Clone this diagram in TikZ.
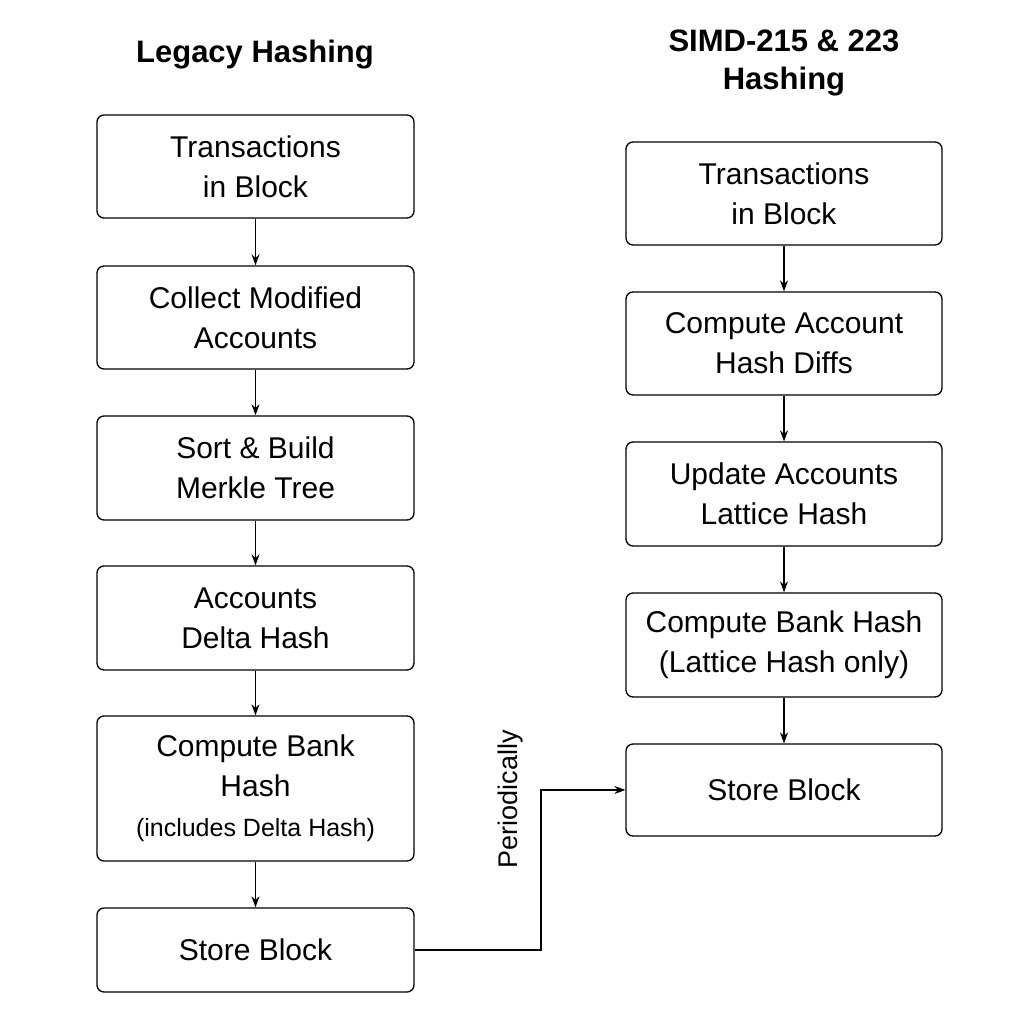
\documentclass[tikz,border=0pt]{standalone}
\usepackage{fontspec}
\setmainfont{Liberation Sans}
\usetikzlibrary{arrows.meta}
\begin{document}
\begin{tikzpicture}[x=1pt,y=-1pt,
  box/.style={draw,line width=1.3pt,rounded corners=7pt,align=center,inner sep=0pt,
    font=\fontsize{30}{40}\selectfont},
  ttl/.style={align=center,font=\bfseries\fontsize{31}{38}\selectfont},
  arr/.style={line width=1.3pt,-{Stealth[length=11pt,width=8pt]}}]
\useasboundingbox (0,0) rectangle (1024,1024);
\node[ttl] (t1) at (255,55) {Legacy Hashing};
\node[ttl] (t2) at (784,63) {SIMD-215 \& 223\\Hashing};
\node[box,minimum width=317pt,minimum height=103pt] (l1) at (255.5,166.5) {Transactions\\in Block};
\node[box,minimum width=317pt,minimum height=103pt] (l2) at (255.5,317.5) {Collect Modified\\Accounts};
\node[box,minimum width=317pt,minimum height=104pt] (l3) at (255.5,468) {Sort \& Build\\Merkle Tree};
\node[box,minimum width=317pt,minimum height=104pt] (l4) at (255.5,618) {Accounts\\Delta Hash};
\node[box,minimum width=317pt,minimum height=145pt] (l5) at (255.5,788.5) {Compute Bank\\Hash\\{\fontsize{25}{40}\selectfont (includes Delta Hash)}};
\node[box,minimum width=317pt,minimum height=84pt] (l6) at (255.5,950) {Store Block};
\node[box,minimum width=316pt,minimum height=103pt] (r1) at (784,193.5) {Transactions\\in Block};
\node[box,minimum width=316pt,minimum height=103pt] (r2) at (784,343.5) {Compute Account\\Hash Diffs};
\node[box,minimum width=316pt,minimum height=104pt] (r3) at (784,494) {Update Accounts\\Lattice Hash};
\node[box,minimum width=316pt,minimum height=104pt] (r4) at (784,645) {Compute Bank Hash\\(Lattice Hash only)};
\node[box,minimum width=316pt,minimum height=92pt] (r5) at (784,790) {Store Block};
\foreach \a/\b in {l1/l2,l2/l3,l3/l4,l4/l5,l5/l6,r1/r2,r2/r3,r3/r4,r4/r5}
  \draw[arr] (\a) -- (\b);
\coordinate (c1) at (541,950);
\coordinate (c2) at (541,790);
\draw[arr] (l6.east) -- (c1) -- (c2) -- (r5.west);
\node[rotate=90,font=\fontsize{27}{30}\selectfont] (p) at (511,799) {Periodically};
\end{tikzpicture}
\end{document}
